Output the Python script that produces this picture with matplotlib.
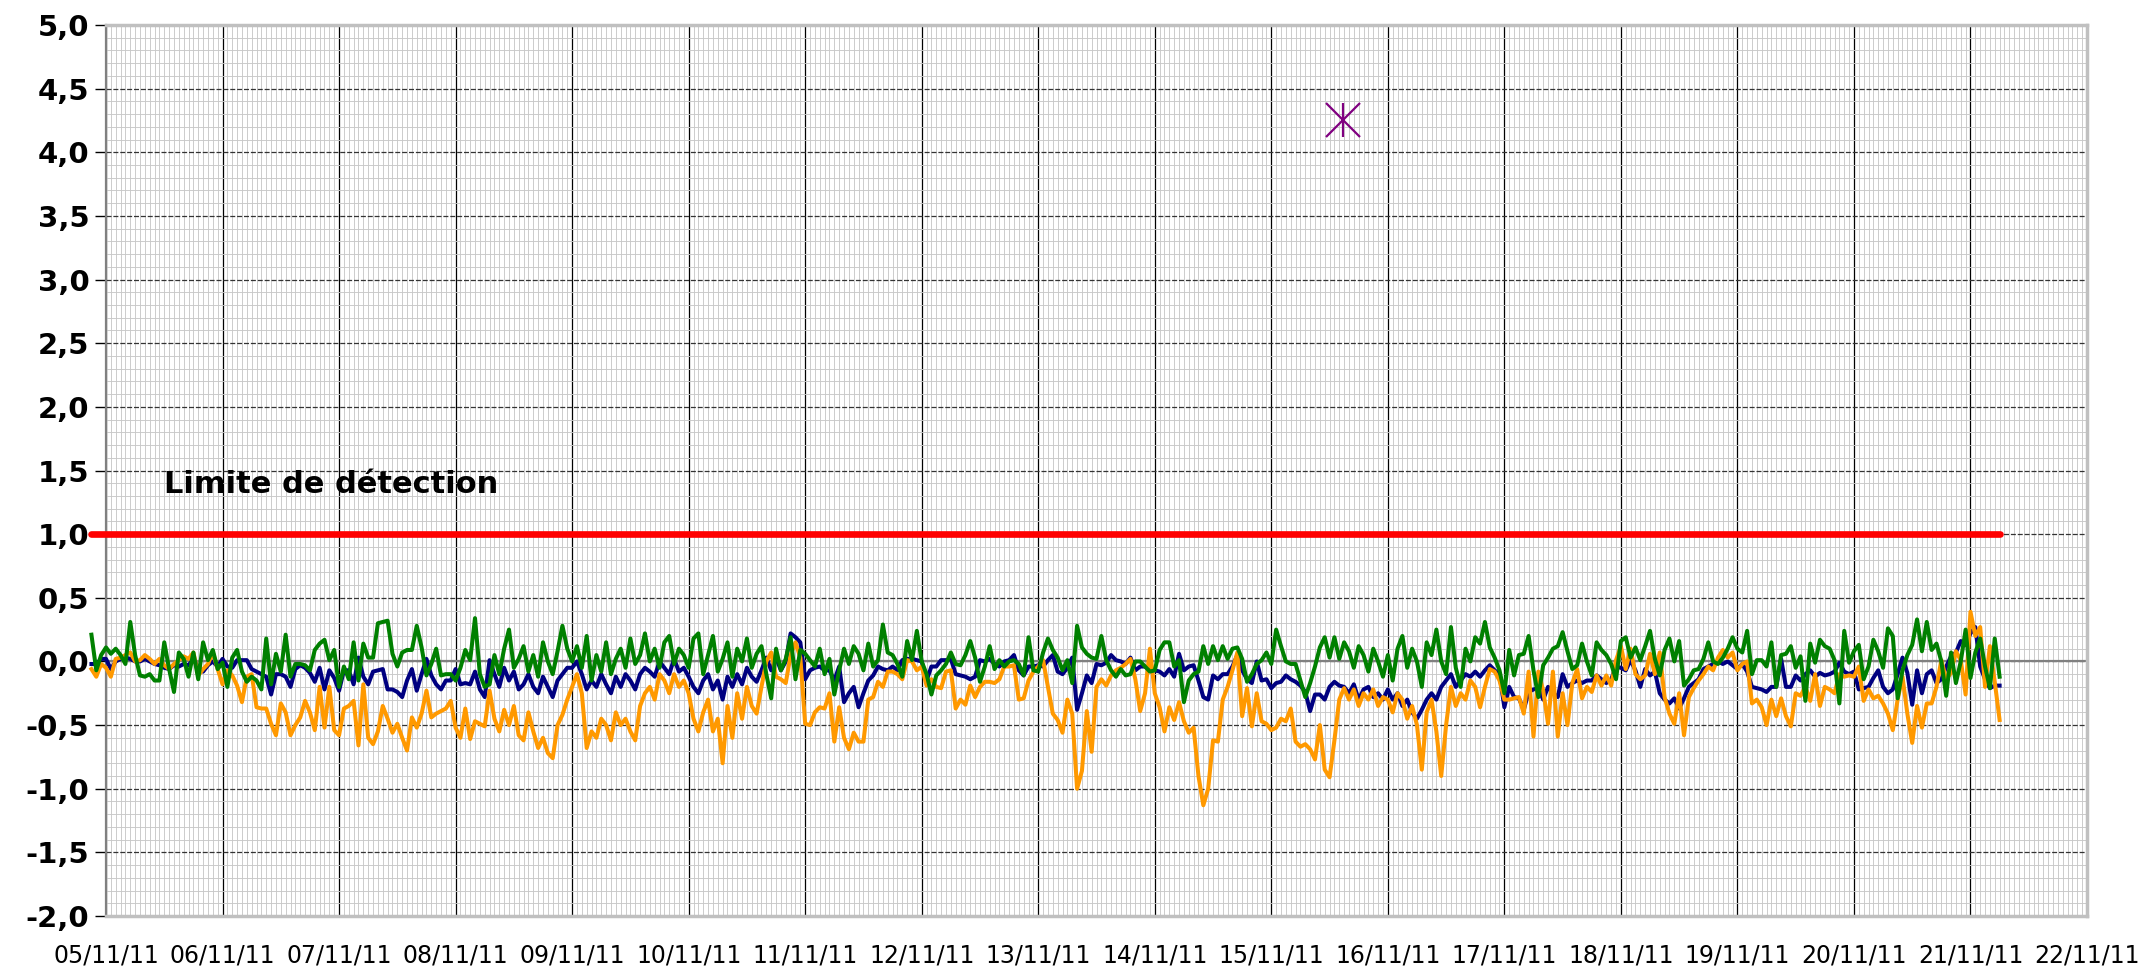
import numpy as np
import pandas as pd
import matplotlib
matplotlib.use("Agg")
import matplotlib.pyplot as plt
import matplotlib.dates as mdates
from matplotlib.ticker import FuncFormatter, MultipleLocator

# hourly readings, first one at 04/11/11 21:00
start = pd.Timestamp("2011-11-04 21:00")

navy = [
    -0.02, -0.02, 0.02,
    0.02, -0.06, 0.00, 0.02, 0.03, 0.02, 0.00, 0.00, 0.02, 0.00, -0.02, -0.03, -0.05, -0.06, -0.03, -0.04, -0.02, -0.03, 0.02, -0.05, -0.08, -0.03, 0.00, -0.04,
    0.02, -0.04, -0.05, 0.01, 0.01, 0.01, -0.06, -0.08, -0.10, -0.12, -0.26, -0.10, -0.10, -0.12, -0.20, -0.06, -0.03, -0.05, -0.09, -0.16, -0.05, -0.22, -0.07, -0.13,
    -0.23, -0.07, -0.07, -0.18, 0.03, -0.12, -0.18, -0.08, -0.07, -0.06, -0.22, -0.22, -0.24, -0.28, -0.15, -0.06, -0.23, -0.10, 0.02, -0.11, -0.18, -0.22, -0.15, -0.15,
    -0.06, -0.18, -0.17, -0.18, -0.08, -0.22, -0.28, 0.01, -0.10, -0.20, -0.05, -0.15, -0.08, -0.22, -0.18, -0.10, -0.20, -0.25, -0.12, -0.20, -0.28, -0.15, -0.10, -0.05,
    -0.05, 0.00, -0.10, -0.22, -0.15, -0.20, -0.10, -0.18, -0.25, -0.12, -0.20, -0.10, -0.15, -0.22, -0.10, -0.05, -0.08, -0.12, 0.00, -0.05, -0.10, 0.02, -0.08, -0.05,
    -0.12, -0.20, -0.25, -0.15, -0.10, -0.22, -0.15, -0.30, -0.12, -0.20, -0.10, -0.18, -0.05, -0.12, -0.16, -0.07, 0.03, -0.07, 0.03, -0.07, 0.00, 0.22, 0.19, 0.15,
    -0.14, -0.07, -0.05, -0.04, -0.07, -0.07, -0.15, -0.04, -0.32, -0.25, -0.20, -0.36, -0.25, -0.15, -0.11, -0.04, -0.06, -0.07, -0.04, -0.07, 0.01, 0.02, 0.02, 0.01,
    0.00, -0.15, -0.04, -0.04, 0.01, 0.01, 0.02, -0.10, -0.11, -0.12, -0.14, -0.12, 0.01, 0.00, 0.02, -0.02, -0.04, 0.00, 0.01, 0.05, -0.07, -0.11, -0.04, -0.04,
    -0.03, -0.04, 0.01, 0.05, -0.08, -0.10, -0.05, 0.03, -0.38, -0.25, -0.11, -0.17, -0.02, -0.03, -0.01, 0.05, 0.01, 0.00, -0.02, 0.03, -0.07, -0.04, -0.04, -0.07,
    -0.07, -0.08, -0.11, -0.06, -0.12, 0.06, -0.07, -0.04, -0.03, -0.15, -0.28, -0.30, -0.11, -0.14, -0.10, -0.10, -0.04, 0.05, -0.07, -0.14, -0.17, 0.00, -0.15, -0.14,
    -0.21, -0.17, -0.16, -0.11, -0.14, -0.16, -0.19, -0.24, -0.39, -0.26, -0.26, -0.30, -0.20, -0.16, -0.19, -0.20, -0.25, -0.18, -0.30, -0.22, -0.20, -0.28, -0.25, -0.30,
    -0.22, -0.30, -0.25, -0.35, -0.30, -0.40, -0.45, -0.38, -0.30, -0.25, -0.30, -0.20, -0.15, -0.10, -0.20, -0.15, -0.10, -0.12, -0.08, -0.12, -0.07, -0.03, -0.07, -0.10,
    -0.36, -0.20, -0.28, -0.29, -0.38, -0.24, -0.22, -0.21, -0.30, -0.20, -0.25, -0.28, -0.10, -0.20, -0.17, -0.15, -0.17, -0.15, -0.15, -0.11, -0.14, -0.17, -0.14, -0.04,
    -0.05, -0.07, 0.01, -0.07, -0.20, -0.06, -0.11, -0.08, -0.25, -0.30, -0.33, -0.29, -0.37, -0.29, -0.20, -0.17, -0.14, -0.06, -0.04, -0.02, 0.00, -0.02, 0.00, -0.03,
    -0.06, -0.02, -0.08, -0.20, -0.21, -0.22, -0.24, -0.20, -0.20, 0.02, -0.20, -0.20, -0.11, -0.15, -0.10, -0.07, -0.12, -0.09, -0.11, -0.10, -0.08, -0.01, -0.08, -0.10,
    -0.08, -0.22, -0.21, -0.20, -0.13, -0.07, -0.20, -0.25, -0.22, -0.10, 0.03, -0.09, -0.34, -0.07, -0.25, -0.10, -0.07, -0.17, -0.14, -0.04, 0.04, 0.07, 0.16, 0.13,
    0.22, 0.27, -0.04, -0.14, -0.21, -0.19, -0.19,
]

orange = [
    -0.06, -0.12, -0.02,
    -0.05, -0.12, 0.02, 0.03, 0.05, 0.07, 0.00, 0.01, 0.05, 0.02, -0.02, 0.02, -0.03, -0.06, -0.02, 0.01, 0.04, 0.02, 0.07, -0.11, -0.06, -0.02, 0.07, -0.06,
    -0.18, -0.07, -0.11, -0.19, -0.32, -0.12, -0.10, -0.36, -0.37, -0.37, -0.49, -0.58, -0.33, -0.40, -0.58, -0.50, -0.44, -0.31, -0.40, -0.54, -0.20, -0.52, -0.20, -0.54,
    -0.58, -0.37, -0.35, -0.31, -0.66, -0.18, -0.60, -0.65, -0.55, -0.35, -0.45, -0.56, -0.49, -0.60, -0.70, -0.44, -0.52, -0.41, -0.23, -0.44, -0.41, -0.39, -0.37, -0.31,
    -0.52, -0.60, -0.37, -0.61, -0.47, -0.49, -0.51, -0.23, -0.45, -0.55, -0.38, -0.50, -0.35, -0.58, -0.62, -0.40, -0.55, -0.68, -0.60, -0.72, -0.76, -0.50, -0.42, -0.30,
    -0.20, -0.10, -0.25, -0.68, -0.55, -0.60, -0.45, -0.50, -0.62, -0.40, -0.50, -0.45, -0.55, -0.62, -0.35, -0.25, -0.20, -0.30, -0.10, -0.15, -0.25, -0.10, -0.20, -0.15,
    -0.25, -0.45, -0.55, -0.40, -0.30, -0.55, -0.45, -0.80, -0.35, -0.60, -0.25, -0.45, -0.20, -0.35, -0.41, -0.20, 0.00, 0.07, -0.12, -0.14, -0.17, 0.05, 0.15, 0.03,
    -0.49, -0.50, -0.40, -0.36, -0.37, -0.25, -0.63, -0.36, -0.60, -0.69, -0.56, -0.63, -0.63, -0.30, -0.28, -0.16, -0.20, -0.08, -0.08, -0.10, -0.14, 0.01, 0.00, -0.07,
    -0.04, -0.19, -0.14, -0.20, -0.21, -0.08, -0.07, -0.37, -0.30, -0.34, -0.19, -0.28, -0.20, -0.16, -0.16, -0.17, -0.14, -0.04, -0.04, -0.03, -0.30, -0.29, -0.15, -0.08,
    -0.04, 0.01, -0.20, -0.41, -0.46, -0.56, -0.30, -0.41, -1.00, -0.86, -0.39, -0.71, -0.20, -0.14, -0.19, -0.11, -0.07, -0.05, -0.02, 0.02, -0.14, -0.39, -0.25, 0.10,
    -0.25, -0.36, -0.55, -0.36, -0.46, -0.32, -0.47, -0.56, -0.52, -0.90, -1.13, -1.00, -0.62, -0.63, -0.30, -0.20, -0.07, 0.07, -0.43, -0.21, -0.51, -0.25, -0.47, -0.49,
    -0.54, -0.52, -0.45, -0.47, -0.37, -0.63, -0.67, -0.65, -0.69, -0.77, -0.50, -0.85, -0.91, -0.62, -0.30, -0.21, -0.30, -0.22, -0.35, -0.25, -0.30, -0.22, -0.35, -0.28,
    -0.30, -0.40, -0.25, -0.30, -0.45, -0.35, -0.50, -0.85, -0.40, -0.30, -0.55, -0.90, -0.50, -0.20, -0.35, -0.25, -0.30, -0.15, -0.20, -0.36, -0.20, -0.06, -0.08, -0.15,
    -0.30, -0.30, -0.29, -0.28, -0.41, -0.08, -0.59, -0.08, -0.23, -0.49, -0.08, -0.59, -0.25, -0.50, -0.17, -0.06, -0.29, -0.20, -0.24, -0.11, -0.19, -0.11, -0.19, 0.01,
    0.12, -0.06, 0.10, -0.10, -0.14, -0.11, 0.06, -0.10, 0.07, -0.28, -0.41, -0.49, -0.25, -0.58, -0.28, -0.21, -0.15, -0.10, -0.04, -0.07, 0.03, 0.09, 0.03, 0.07,
    -0.07, -0.02, 0.00, -0.33, -0.30, -0.36, -0.50, -0.30, -0.43, -0.29, -0.43, -0.51, -0.25, -0.27, -0.20, -0.31, -0.10, -0.35, -0.20, -0.22, -0.25, -0.10, -0.12, -0.11,
    -0.12, -0.04, -0.31, -0.22, -0.29, -0.27, -0.33, -0.41, -0.54, -0.30, -0.12, -0.41, -0.64, -0.35, -0.52, -0.33, -0.33, -0.20, 0.01, -0.14, -0.09, 0.08, 0.01, -0.26,
    0.39, 0.20, 0.27, -0.20, 0.12, -0.16, -0.46,
]

green = [
    0.21, -0.07, 0.05,
    0.11, 0.06, 0.10, 0.05, -0.02, 0.31, 0.05, -0.11, -0.12, -0.10, -0.15, -0.15, 0.15, -0.06, -0.24, 0.07, 0.02, -0.12, 0.07, -0.14, 0.15, 0.01, 0.09, -0.06,
    -0.01, -0.20, 0.03, 0.09, -0.08, -0.16, -0.12, -0.15, -0.22, 0.18, -0.18, 0.06, -0.08, 0.21, -0.12, -0.02, -0.02, -0.03, -0.07, 0.09, 0.14, 0.17, 0.01, 0.09,
    -0.20, -0.04, -0.14, 0.15, -0.15, 0.14, 0.03, 0.03, 0.30, 0.31, 0.32, 0.06, -0.04, 0.07, 0.09, 0.09, 0.28, 0.11, -0.11, -0.02, 0.10, -0.11, -0.10, -0.10,
    -0.15, -0.05, 0.09, 0.01, 0.34, -0.10, -0.20, -0.18, 0.05, -0.10, 0.10, 0.25, -0.05, 0.02, 0.12, -0.08, 0.05, -0.12, 0.15, 0.00, -0.10, 0.08, 0.28, 0.10,
    0.00, 0.12, -0.05, 0.20, -0.15, 0.05, -0.08, 0.15, -0.10, 0.02, 0.10, -0.05, 0.18, -0.02, 0.05, 0.22, 0.00, 0.10, -0.05, 0.15, 0.20, -0.02, 0.10, 0.05,
    -0.05, 0.18, 0.22, -0.10, 0.05, 0.20, -0.08, 0.02, 0.15, -0.12, 0.10, 0.00, 0.18, -0.05, 0.06, 0.12, -0.10, -0.29, 0.10, -0.07, 0.02, 0.19, -0.14, 0.09,
    0.06, 0.01, -0.04, 0.10, -0.10, 0.02, -0.26, -0.07, 0.10, -0.02, 0.12, 0.06, -0.07, 0.14, -0.04, 0.01, 0.29, 0.07, 0.05, -0.02, -0.12, 0.16, 0.01, 0.24,
    0.00, -0.10, -0.26, -0.11, -0.07, -0.02, 0.07, -0.02, -0.03, 0.05, 0.16, 0.03, -0.16, -0.04, 0.12, -0.06, 0.01, -0.04, 0.00, 0.01, -0.02, -0.11, 0.19, -0.07,
    -0.08, 0.07, 0.18, 0.09, 0.03, -0.07, 0.01, -0.17, 0.28, 0.11, 0.06, 0.03, 0.02, 0.20, 0.01, -0.07, -0.12, -0.06, -0.11, -0.10, 0.00, 0.00, -0.04, -0.08,
    -0.07, 0.09, 0.15, 0.15, -0.04, 0.01, -0.32, -0.15, -0.10, -0.08, 0.12, -0.02, 0.12, 0.01, 0.12, 0.02, 0.10, 0.11, 0.02, -0.16, -0.10, -0.02, 0.01, 0.07,
    -0.02, 0.25, 0.12, 0.00, -0.02, -0.02, -0.15, -0.28, -0.17, -0.04, 0.11, 0.19, 0.03, 0.19, 0.02, 0.15, 0.08, -0.05, 0.12, 0.05, -0.08, 0.10, 0.00, -0.12,
    0.05, -0.15, 0.10, 0.20, -0.05, 0.10, 0.00, -0.20, 0.15, 0.05, 0.25, 0.00, -0.10, 0.27, -0.05, -0.20, 0.10, 0.00, 0.19, 0.14, 0.31, 0.11, 0.03, -0.07,
    -0.25, 0.09, -0.11, 0.05, 0.06, 0.20, -0.07, -0.28, -0.03, 0.03, 0.10, 0.12, 0.23, 0.08, -0.06, -0.03, 0.14, 0.00, -0.11, 0.15, 0.09, 0.05, -0.02, -0.14,
    0.16, 0.19, 0.03, 0.11, 0.01, 0.12, 0.24, 0.02, -0.11, 0.09, 0.18, 0.00, 0.16, -0.19, -0.14, -0.07, -0.06, 0.02, 0.15, 0.00, -0.02, 0.03, 0.10, 0.19,
    0.10, 0.07, 0.24, -0.10, 0.01, 0.01, -0.04, 0.15, -0.20, 0.05, 0.06, 0.12, -0.05, 0.04, -0.31, 0.14, -0.01, 0.17, 0.12, 0.10, 0.01, -0.33, 0.24, -0.01,
    0.08, 0.13, -0.14, -0.04, 0.17, 0.08, -0.05, 0.26, 0.20, -0.29, -0.07, 0.05, 0.13, 0.33, 0.08, 0.31, 0.09, 0.14, 0.00, -0.27, 0.07, -0.17, 0.00, 0.25,
    -0.13, 0.07, 0.18, -0.04, -0.21, 0.18, -0.12,
]

# detection limit line, same time span as the readings
limit_value = 1.0
limit_label = "Limite de détection"

# single isolated reading
star_time = pd.Timestamp("2011-11-15 14:40")
star_value = 4.25

x_start = pd.Timestamp("2011-11-05")
x_end = pd.Timestamp("2011-11-22")


def hours(vals):
    return pd.date_range(start, periods=len(vals), freq="h")


fig = plt.figure(figsize=(21.41, 9.66), dpi=100)
ax = fig.add_axes([106 / 2141, 50 / 966, (2087 - 106) / 2141, (916 - 25) / 966])

ax.set_xlim(x_start, x_end)
ax.set_ylim(-2.0, 5.0)

# grid like the Excel sheet: hourly / 0.1 minor, daily / 0.5 major
ax.xaxis.set_major_locator(mdates.DayLocator())
ax.xaxis.set_minor_locator(mdates.HourLocator())
ax.xaxis.set_major_formatter(mdates.DateFormatter("%d/%m/%y"))
ax.yaxis.set_major_locator(MultipleLocator(0.5))
ax.yaxis.set_minor_locator(MultipleLocator(0.1))
ax.yaxis.set_major_formatter(FuncFormatter(lambda v, p: f"{v:.1f}".replace(".", ",")))

ax.grid(which="minor", color="#c8c8c8", linewidth=0.65)
ax.grid(which="major", axis="x", color="black", linewidth=0.9)
ax.grid(which="major", axis="y", color="#333333", linewidth=0.9, linestyle=(0, (4, 1.5)))
ax.set_axisbelow(True)
ax.axhline(0, color="#808080", linewidth=1.6, zorder=1.5)

for side in ["top", "right", "bottom"]:
    ax.spines[side].set_color("#c0c0c0")
    ax.spines[side].set_linewidth(2.5)
ax.spines["left"].set_color("#808080")
ax.spines["left"].set_linewidth(1.6)

ax.tick_params(axis="y", which="major", length=8, width=1, color="black", labelsize=21, pad=4)
ax.tick_params(axis="y", which="minor", length=0)
ax.tick_params(axis="x", which="both", length=0, labelsize=17, pad=20)
for lbl in ax.get_yticklabels():
    lbl.set_fontweight("bold")

# the readings
ax.plot(hours(navy), navy, color="#000080", linewidth=2.9, clip_on=False, zorder=3)
ax.plot(hours(orange), orange, color="#ff9900", linewidth=2.9, clip_on=False, zorder=3)
ax.plot(hours(green), green, color="#008000", linewidth=2.9, clip_on=False, zorder=3)

limit_x = hours(navy)
ax.plot([limit_x[0], limit_x[-1]], [limit_value, limit_value], color="#ff0000",
        linewidth=4.8, solid_capstyle="round", clip_on=False, zorder=3)
ax.text(pd.Timestamp("2011-11-05 12:00"), 1.39, limit_label, fontsize=22,
        fontweight="bold", va="center", ha="left")

ax.plot([star_time], [star_value], marker="x", markersize=24, markeredgewidth=1.6,
        color="#800080", linestyle="none", zorder=4)
ax.plot([star_time], [star_value], marker="|", markersize=24, markeredgewidth=1.6,
        color="#800080", linestyle="none", zorder=4)

fig.savefig("out.png", dpi=100)
